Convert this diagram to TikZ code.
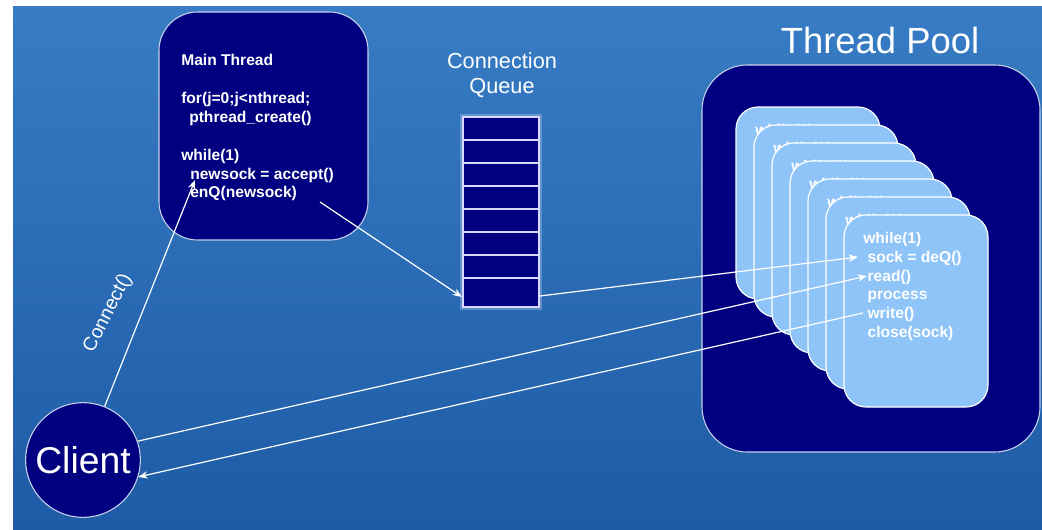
\documentclass[tikz,border=0pt]{standalone}
\usepackage{fontspec}
\setmainfont{Liberation Sans}
\usetikzlibrary{arrows.meta}
\definecolor{navy}{HTML}{000080}
\definecolor{cardblue}{HTML}{8EC4F8}
\definecolor{bgtop}{HTML}{377CC4}
\definecolor{bgbot}{HTML}{1E5BA6}
\definecolor{edge}{HTML}{C8D2EC}
\begin{document}
\begin{tikzpicture}[x=0.75pt,y=-0.75pt,
  code/.style={font=\bfseries\fontsize{11.7}{14}\selectfont, text=white, inner sep=0pt, anchor=base west},
  arr/.style={draw=white, line width=0.9pt, -{Stealth[length=7pt,width=5.5pt]}},
  darkbox/.style={draw=edge, line width=0.8pt, fill=navy, inner sep=0pt},
  cardbox/.style={draw=white, line width=0.9pt, fill=cardblue, rounded corners=16.5pt,
     minimum width=108pt, minimum height=144pt, inner sep=0pt},
  plain/.style={text=white, inner sep=0pt}]
\useasboundingbox (0,0) rectangle (1042,529);
\fill[white] (0,0) rectangle (1042,529);
\shade[top color=bgtop,bottom color=bgbot] (13,6) rectangle (1042,529);

% Main thread box
\node[darkbox, rounded corners=29pt, minimum width=156.75pt, minimum height=171pt] (main) at (263.5,126) {};
\node[code] (m1) at (181,65) {Main Thread};
\node[code] (m2) at (181,103) {for(j=0;j<nthread;};
\node[code] (m3) at (189,122) {pthread\_create()};
\node[code] (m4) at (181,160) {while(1)};
\node[code] (m5) at (190,179) {newsock = accept()};
\node[code] (m6) at (190,197) {enQ(newsock)};

% Connection queue
\node[plain, anchor=base, font=\fontsize{16.3}{19}\selectfont] (qt1) at (502,68) {Connection};
\node[plain, anchor=base, font=\fontsize{16.3}{19}\selectfont] (qt2) at (502,93) {Queue};
\draw[white, opacity=0.25, line width=4pt] (463,117) rectangle (539,307);
\node[darkbox, draw=white!85!blue, minimum width=57pt, minimum height=142.5pt] (queue) at (501,212) {};
\foreach \y in {140,163,186,209,232,255,278}
  \draw[white!85!blue, line width=0.8pt] (463,\y) -- (539,\y);

% Thread pool
\node[plain, anchor=base, font=\fontsize{27.3}{32}\selectfont] (tptitle) at (880,53) {Thread Pool};
\node[darkbox, rounded corners=34pt, minimum width=253.5pt, minimum height=290.25pt] (pool) at (871,258.5) {};
\foreach \k in {0,...,6} {
  \pgfmathsetmacro\L{736+18*\k}
  \pgfmathsetmacro\T{107+18*\k}
  \node[cardbox] (card\k) at (\L+72,\T+96) {};
  \foreach \t [count=\j] in {while(1),{\ sock = deQ()},{\ read()},{\ process},{\ write()},{\ close(sock)}}
    \node[code] (card\k-\j) at (\L+19,\T+28.5+18.8*\j-18.8) {\t};
}

% Client
\node[darkbox, draw=edge, circle, minimum size=86pt, font=\fontsize{28}{32}\selectfont, text=white] (client) at (83,460) {Client};
\node[plain, rotate=63, font=\fontsize{14.5}{17}\selectfont] (connlbl) at (108,313) {Connect()};

% connector end points
\coordinate (accpt) at (195,180);
\coordinate (enqsrc) at (320,202);
\coordinate (qin) at (462,297);
\coordinate (qout) at (540,296);
\coordinate (deq) at (858,257);
\coordinate (rd) at (867,276);
\coordinate (wr) at (863,313);

\draw[arr] (client.68) -- (accpt);
\draw[arr] (enqsrc) -- (qin);
\draw[arr] (qout) -- (deq);
\draw[arr] (client.19) -- (rd);
\draw[arr] (wr) -- (client.-17);
\end{tikzpicture}
\end{document}
